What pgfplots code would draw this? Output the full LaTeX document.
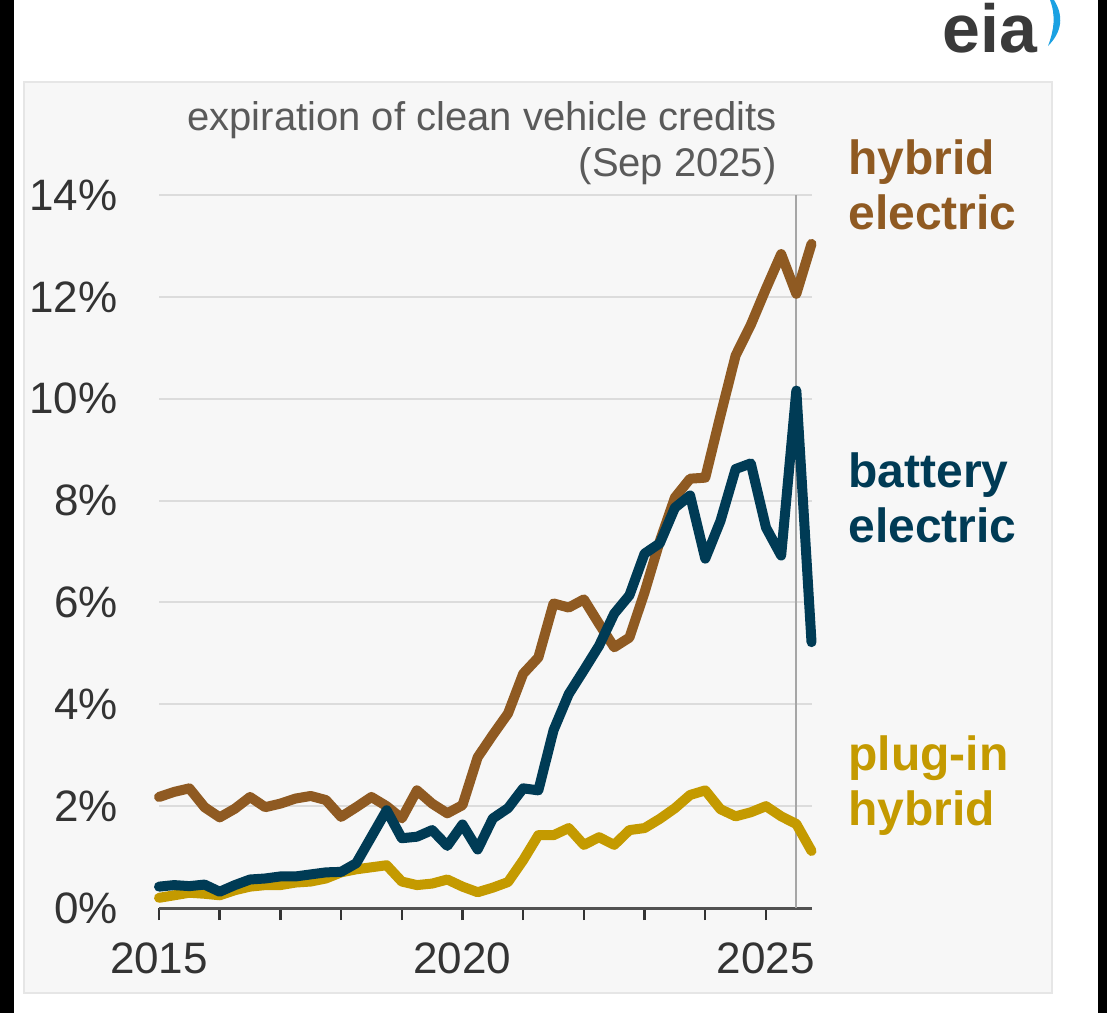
\documentclass[border=0pt]{standalone}
\usepackage{pgfplots}
\pgfplotsset{compat=1.18}
\usepackage{fontspec}
\setmainfont{Liberation Sans}
\definecolor{hev}{HTML}{8F5A22}
\definecolor{bev}{HTML}{003B55}
\definecolor{phev}{HTML}{C49A00}
\definecolor{panel}{HTML}{F7F7F7}
\definecolor{gridc}{HTML}{DCDCDC}
\definecolor{txt}{HTML}{333333}
\definecolor{anno}{HTML}{5A5A5A}
\definecolor{eiagray}{HTML}{3A3A3A}
\definecolor{eiablue}{HTML}{1BA1E2}

\pgfplotstableread{
x hev bev phev
2015.00 2.18 0.42 0.20
2015.25 2.28 0.45 0.25
2015.50 2.35 0.43 0.30
2015.75 1.98 0.46 0.28
2016.00 1.78 0.32 0.25
2016.25 1.95 0.45 0.35
2016.50 2.18 0.56 0.42
2016.75 1.98 0.58 0.45
2017.00 2.05 0.62 0.45
2017.25 2.15 0.62 0.50
2017.50 2.20 0.66 0.52
2017.75 2.12 0.70 0.58
2018.00 1.79 0.71 0.70
2018.25 1.98 0.88 0.76
2018.50 2.18 1.40 0.80
2018.75 2.00 1.92 0.84
2019.00 1.76 1.37 0.52
2019.25 2.31 1.40 0.45
2019.50 2.05 1.53 0.48
2019.75 1.86 1.22 0.56
2020.00 2.02 1.64 0.42
2020.25 2.96 1.15 0.31
2020.50 3.40 1.76 0.40
2020.75 3.82 1.96 0.51
2021.00 4.60 2.35 0.94
2021.25 4.92 2.31 1.43
2021.50 5.98 3.49 1.43
2021.75 5.90 4.20 1.57
2022.00 6.06 4.67 1.24
2022.25 5.58 5.15 1.39
2022.50 5.12 5.78 1.24
2022.75 5.31 6.14 1.53
2023.00 6.20 6.96 1.57
2023.25 7.20 7.16 1.75
2023.50 8.06 7.86 1.96
2023.75 8.43 8.10 2.22
2024.00 8.45 6.86 2.31
2024.25 9.67 7.60 1.94
2024.50 10.85 8.62 1.80
2024.75 11.45 8.73 1.88
2025.00 12.16 7.47 2.00
2025.25 12.84 6.92 1.80
2025.50 12.06 10.16 1.65
2025.75 13.04 5.22 1.12
}\datatable

\begin{document}
\begin{tikzpicture}
\useasboundingbox (0,0) rectangle (553.5pt,-506.5pt);
\fill[white] (0,0) rectangle (553.5pt,-506.5pt);
\fill[black] (0,0) rectangle (7pt,-506.5pt);
\fill[black] (549pt,0) rectangle (553.5pt,-506.5pt);
\fill[panel, draw=gridc!70, line width=0.8pt] (12pt,-41pt) rectangle (526pt,-496.5pt);
% eia logo
\node[anchor=base west, inner sep=0pt, font=\bfseries\fontsize{34}{38}\selectfont, text=eiagray] at (471pt,-26pt) {eia};
\fill[eiablue] (527pt,0pt) .. controls (532pt,-8pt) and (531pt,-16pt) .. (524pt,-23pt)
  .. controls (527pt,-15pt) and (528pt,-8pt) .. (525pt,0pt) -- cycle;
\begin{axis}[
  at={(79.5pt,-454pt)}, anchor=south west,
  scale only axis, width=326.25pt, height=356.5pt,
  xmin=2015, xmax=2025.75, ymin=0, ymax=14,
  separate axis lines,
  axis x line*=bottom, axis y line*=left,
  x axis line style={txt!85, line width=1.5pt, -},
  y axis line style={draw=none},
  xtick={2015,...,2025},
  xticklabels={2015,,,,,2020,,,,,2025},
  ytick={0,2,...,14},
  yticklabel={\pgfmathprintnumber{\tick}\%},
  ymajorgrids, grid style={gridc, line width=1pt},
  xtick align=outside, ytick align=inside,
  major tick length=6pt,
  x tick style={txt, line width=1.2pt},
  y tick style={draw=none},
  /pgf/number format/assume math mode=true,
  tick label style={font=\fontsize{22}{26}\selectfont, text=txt},
  yticklabel style={anchor=east, inner sep=0pt, xshift=-20.5pt},
  xticklabel style={anchor=north, inner sep=0pt, yshift=-11pt},
  clip=false,
  every axis plot/.append style={line width=5pt, line join=round, line cap=round},
]
\addplot[gray!70, line width=1pt, line cap=butt] coordinates {(2025.5,0) (2025.5,14)};
\addplot[hev] table[x=x, y=hev] {\datatable};
\addplot[phev] table[x=x, y=phev] {\datatable};
\addplot[bev] table[x=x, y=bev] {\datatable};
\end{axis}
\node[anchor=base east, inner sep=0pt, font=\fontsize{20}{24}\selectfont, text=anno] at (388.5pt,-65pt) {expiration of clean vehicle credits};
\node[anchor=base east, inner sep=0pt, font=\fontsize{20}{24}\selectfont, text=anno] at (388.5pt,-88pt) {(Sep 2025)};
\begin{scope}[every node/.style={anchor=base west, inner sep=0pt, font=\bfseries\fontsize{24}{28}\selectfont}]
\node[text=hev] at (424pt,-87pt) {hybrid};
\node[text=hev] at (424pt,-114.5pt) {electric};
\node[text=bev] at (424pt,-243.5pt) {battery};
\node[text=bev] at (424pt,-271pt) {electric};
\node[text=phev] at (424pt,-385pt) {plug-in};
\node[text=phev] at (424pt,-412.5pt) {hybrid};
\end{scope}
\end{tikzpicture}
\end{document}
